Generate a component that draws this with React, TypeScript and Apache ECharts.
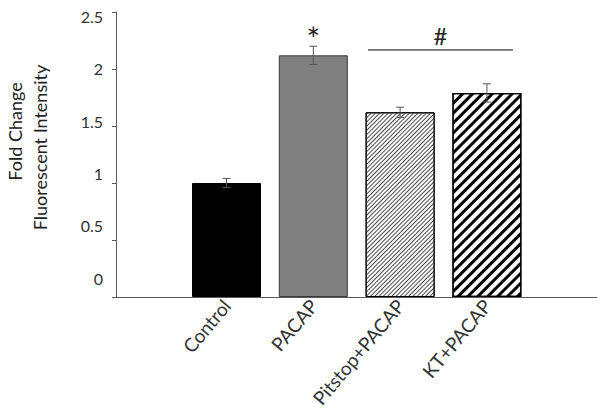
import React, { useEffect, useRef } from 'react';
import * as echarts from 'echarts';

const categories = ['Control', 'PACAP', 'Pitstop+PACAP', 'KT+PACAP'];
const values = [1.0, 2.12, 1.62, 1.79];
const errors = [0.04, 0.08, 0.045, 0.08];
const yTicks = [0, 0.5, 1, 1.5, 2, 2.5];
const starMarks = [{ at: 1, y: 2.32, text: '*' }];
const bracket = { from: 1.63, to: 3.3, y: 2.167, labelY: 2.294, text: '#' };
const yTitleLines = ['Fold Change', 'Fluorescent Intensity'];

export default function App() {
  const ref = useRef<HTMLDivElement>(null);
  useEffect(() => {
    const chart = echarts.init(ref.current as HTMLDivElement, null, { renderer: 'svg' });
    const font = 'Lato, "Open Sans", sans-serif';
    const axisColor = '#595959';
    const barStyles: any[] = [
      { color: '#000', borderColor: '#000', borderWidth: 1 },
      { color: '#808080', borderColor: '#3a3a3a', borderWidth: 1 },
      {
        color: '#fff', borderColor: '#000', borderWidth: 1,
        decal: { symbol: 'rect', symbolSize: 1, dashArrayX: [1, 0], dashArrayY: [1, 1.5], rotation: -Math.PI / 4, color: '#4a4a4a' },
      },
      {
        color: '#fff', borderColor: '#000', borderWidth: 1.2,
        decal: { symbol: 'rect', symbolSize: 1, dashArrayX: [1, 0], dashArrayY: [3, 4], rotation: -Math.PI / 4, color: '#000' },
      },
    ];
    const textMarks = [
      ...starMarks.map((s) => ({ x: s.at, y: s.y, text: s.text })),
      { x: (bracket.from + bracket.to) / 2, y: bracket.labelY, text: bracket.text },
    ];
    const option: any = {
      animation: false,
      backgroundColor: '#fff',
      grid: { left: 116, right: 7, top: 12, bottom: 116, containLabel: false, outerBoundsMode: 'none' },
      xAxis: {
        type: 'value',
        min: -1.273,
        max: 4.268,
        axisLine: { show: true, onZero: false, lineStyle: { color: axisColor, width: 1 } },
        axisTick: { show: false },
        splitLine: { show: false },
        axisLabel: {
          customValues: [0, 1, 2, 3],
          formatter: (v: number) => categories[Math.round(v)] ?? '',
          rotate: 50,
          margin: 5,
          fontSize: 19,
          fontFamily: font,
          color: '#333',
        },
      },
      yAxis: [
        {
          type: 'value',
          min: 0,
          max: 2.5,
          interval: 0.5,
          axisLine: { show: true, onZero: false, lineStyle: { color: axisColor, width: 1 } },
          axisTick: { show: true, inside: false, length: 4, lineStyle: { color: axisColor, width: 1 } },
          axisLabel: { show: false },
          splitLine: { show: false },
        },
        {
          type: 'value',
          position: 'left',
          min: -0.1784,
          max: 2.54,
          axisLine: { show: false, onZero: false },
          axisTick: { show: false },
          splitLine: { show: false },
          axisLabel: {
            customValues: yTicks,
            formatter: (v: number) => String(v),
            margin: 13,
            fontSize: 16,
            fontFamily: font,
            color: '#333',
          },
        },
      ],
      series: [
        {
          type: 'bar',
          xAxisIndex: 0,
          yAxisIndex: 0,
          barWidth: 69,
          data: values.map((v, i) => ({ value: [i, v], itemStyle: barStyles[i] })),
          z: 2,
        },
        {
          type: 'custom',
          xAxisIndex: 0,
          yAxisIndex: 0,
          z: 5,
          data: values.map((v, i) => [i, v, errors[i]]),
          renderItem: (params: any, api: any) => {
            const x = api.value(0);
            const m = api.value(1);
            const e = api.value(2);
            const top = api.coord([x, m + e]);
            const bot = api.coord([x, m - e]);
            const cap = 4;
            const st = { stroke: '#555', lineWidth: 1 };
            return {
              type: 'group',
              children: [
                { type: 'line', shape: { x1: top[0], y1: top[1], x2: bot[0], y2: bot[1] }, style: st },
                { type: 'line', shape: { x1: top[0] - cap, y1: top[1], x2: top[0] + cap, y2: top[1] }, style: st },
                { type: 'line', shape: { x1: bot[0] - cap, y1: bot[1], x2: bot[0] + cap, y2: bot[1] }, style: st },
              ],
            };
          },
        },
        {
          type: 'custom',
          xAxisIndex: 0,
          yAxisIndex: 0,
          z: 5,
          data: [[bracket.from, bracket.to, bracket.y]],
          renderItem: (params: any, api: any) => {
            const a = api.coord([api.value(0), api.value(2)]);
            const b = api.coord([api.value(1), api.value(2)]);
            return {
              type: 'line',
              shape: { x1: a[0], y1: a[1], x2: b[0], y2: b[1] },
              style: { stroke: '#000', lineWidth: 1 },
            };
          },
        },
        {
          type: 'custom',
          xAxisIndex: 0,
          yAxisIndex: 0,
          z: 5,
          data: textMarks.map((t) => [t.x, t.y]),
          renderItem: (params: any, api: any) => {
            const p = api.coord([api.value(0), api.value(1)]);
            const t = textMarks[params.dataIndex];
            const isStar = t.text === '*';
            return {
              type: 'text',
              x: p[0],
              y: p[1] + (isStar ? 6 : 0),
              style: {
                text: t.text,
                fill: '#222',
                fontSize: isStar ? 32 : 24,
                fontFamily: font,
                align: 'center',
                verticalAlign: 'middle',
              },
            };
          },
        },
      ],
      graphic: [
        {
          type: 'text',
          x: 15,
          y: 131.5,
          rotation: Math.PI / 2,
          style: { text: yTitleLines[0], fontSize: 18, fontFamily: font, fill: '#222', align: 'center', verticalAlign: 'middle' },
        },
        {
          type: 'text',
          x: 40,
          y: 147.5,
          rotation: Math.PI / 2,
          style: { text: yTitleLines[1], fontSize: 18, fontFamily: font, fill: '#222', align: 'center', verticalAlign: 'middle' },
        },
      ],
    };
    chart.setOption(option);
    return () => chart.dispose();
  }, []);
  return <div ref={ref} style={{ position: 'fixed', left: 0, top: 0, width: 604, height: 413 }} />;
}
